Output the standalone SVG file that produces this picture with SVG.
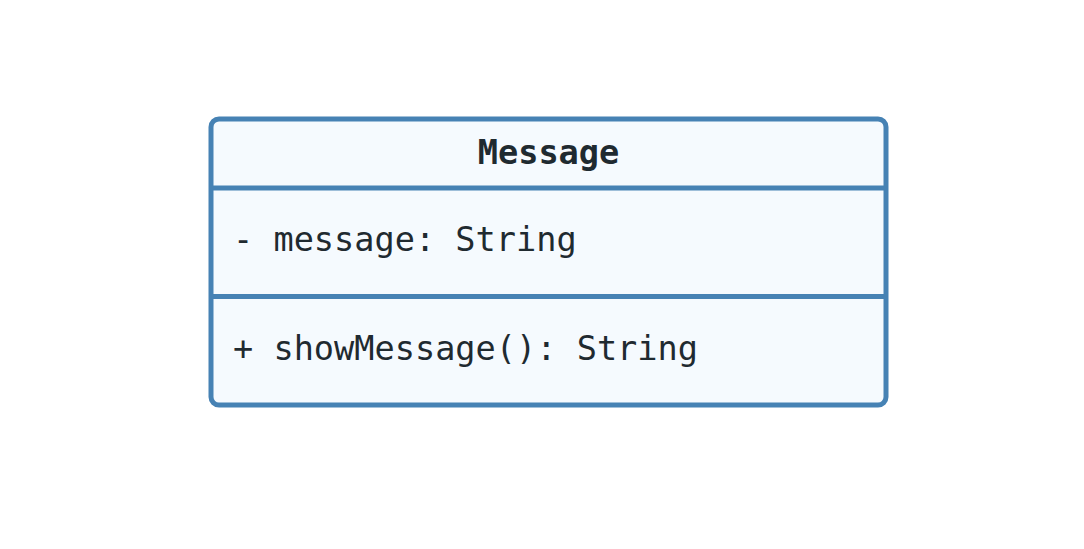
<svg xmlns="http://www.w3.org/2000/svg" width="1084" height="549" viewBox="0 0 1084 549">
  <style>
    .box { fill: #F5FAFE; stroke: #4682B4; stroke-width: 5; }
    .div { stroke: #4682B4; stroke-width: 5; fill: none; }
    .t { font-family: "DejaVu Sans Mono", "Liberation Mono", monospace; font-size: 33.6px; fill: #1F2A30; }
    .title { font-weight: bold; text-anchor: middle; }
  </style>
  <rect width="1084" height="549" fill="#FFFFFF"/>
  <g id="Message">
    <rect class="box" x="211" y="119" width="675" height="286" rx="8" ry="8"/>
    <line class="div" x1="211" y1="188" x2="886" y2="188"/>
    <line class="div" x1="211" y1="296.5" x2="886" y2="296.5"/>
    <text class="t title" x="548.5" y="164">Message</text>
    <text class="t" x="233" y="251">- message: String</text>
    <text class="t" x="233" y="360">+ showMessage(): String</text>
  </g>
  <g id="connectors"></g>
</svg>
